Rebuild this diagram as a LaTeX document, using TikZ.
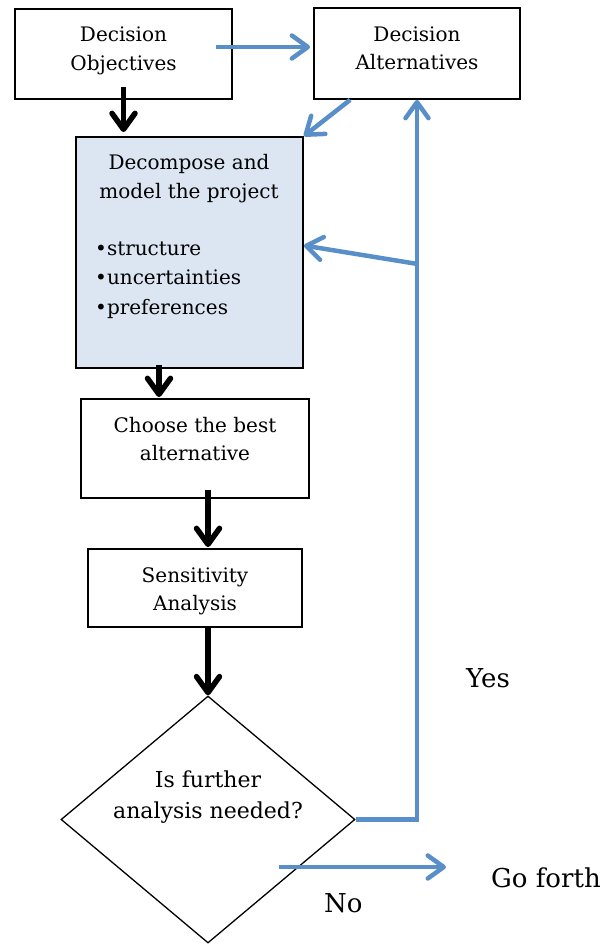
\documentclass[tikz,border=0pt]{standalone}
\usepackage{fontspec}
\setmainfont{DejaVu Serif}
\usetikzlibrary{arrows.meta,shapes.geometric}
\definecolor{flowblue}{RGB}{88,143,200}
\definecolor{paleblue}{RGB}{220,230,242}
\begin{document}
\begin{tikzpicture}[x=1pt,y=-1pt,
  box/.style={draw=black,line width=1.8pt,inner sep=0pt,rectangle},
  txt/.style={anchor=base,inner sep=0pt,font=\fontsize{20}{24}\selectfont},
  btxt/.style={anchor=base west,inner sep=0pt,font=\fontsize{20}{24}\selectfont},
  dtxt/.style={anchor=base,inner sep=0pt,font=\fontsize{22}{26}\selectfont},
  lbl/.style={anchor=base west,inner sep=0pt,font=\fontsize{26}{30}\selectfont},
  tipbarb/.style={-{Straight Barb[length=16pt,width=23pt,round]}},
  blk/.style={draw=black,line width=5.5pt,tipbarb},
  bl/.style={draw=flowblue,line width=4.5pt,tipbarb},
]
\useasboundingbox (0,0) rectangle (606,944);

% boxes
\node[box,minimum width=217pt,minimum height=90pt] (DO) at (123.5,54) {};
\node[txt] (DO1) at (123.5,42) {Decision};
\node[txt] (DO2) at (123.5,71) {Objectives};

\node[box,minimum width=206pt,minimum height=91pt] (DA) at (417,53.5) {};
\node[txt] (DA1) at (417,42) {Decision};
\node[txt] (DA2) at (417,70) {Alternatives};

\node[box,fill=paleblue,minimum width=227pt,minimum height=231pt] (Dec) at (189.5,252.5) {};
\node[txt] (Dec1) at (189,170) {Decompose and};
\node[txt] (Dec2) at (189,198) {model the project};
\node[btxt] (B1) at (95,255) {•structure};
\node[btxt] (B2) at (95,284) {•uncertainties};
\node[btxt] (B3) at (95,314) {•preferences};

\node[box,minimum width=228pt,minimum height=99pt] (Ch) at (195,448.5) {};
\node[txt] (Ch1) at (195,432) {Choose the best};
\node[txt] (Ch2) at (195,460) {alternative};

\node[box,minimum width=214pt,minimum height=78pt] (Se) at (195,588) {};
\node[txt] (Se1) at (195,582) {Sensitivity};
\node[txt] (Se2) at (195,610) {Analysis};

\node[draw,diamond,line width=1.3pt,inner sep=0pt,minimum width=294pt,minimum height=247pt] (Dia) at (208,819.5) {};
\node[dtxt] (Di1) at (208,787) {Is further};
\node[dtxt] (Di2) at (208,818) {analysis needed?};

% labels
\node[lbl] (Yes) at (466,687) {Yes};
\node[lbl] (No) at (324,912) {No};
\node[lbl] (GF) at (491,887) {Go forth};

% black arrows
\draw[blk] ([yshift=13pt]DO.south) -- ([yshift=4pt]Dec.north -| DO.south);
\coordinate (c1) at ([xshift=-30.5pt,yshift=4pt]Dec.south);
\draw[blk,shorten >=1pt] (c1) -- (c1 |- Ch.north);
\coordinate (c2) at (Dia.north |- Ch.south);
\draw[blk,shorten >=1pt] ([yshift=9pt]c2) -- (c2 |- Se.north);
\draw[blk] (Dia.north |- Se.south) -- (Dia.north);

% blue arrows
\coordinate (b1) at ([xshift=-17pt,yshift=7pt]DO.east);
\draw[bl,shorten >=3pt] (b1) -- (b1 -| DA.west);
\draw[bl] ([xshift=37pt]DA.south west) -- (Dec.north east);
\draw[bl] (Dia.east) -| (DA.south);
\coordinate (j) at ([yshift=-164pt]DA.south);
\draw[bl] (j) -- ([yshift=7pt]Dec.east);
\coordinate (n0) at ([xshift=71pt,yshift=-47.5pt]Dia.center);
\coordinate (n1) at ([xshift=238pt,yshift=-47.5pt]Dia.center);
\draw[bl] (n0) -- (n1);
\end{tikzpicture}
\end{document}
